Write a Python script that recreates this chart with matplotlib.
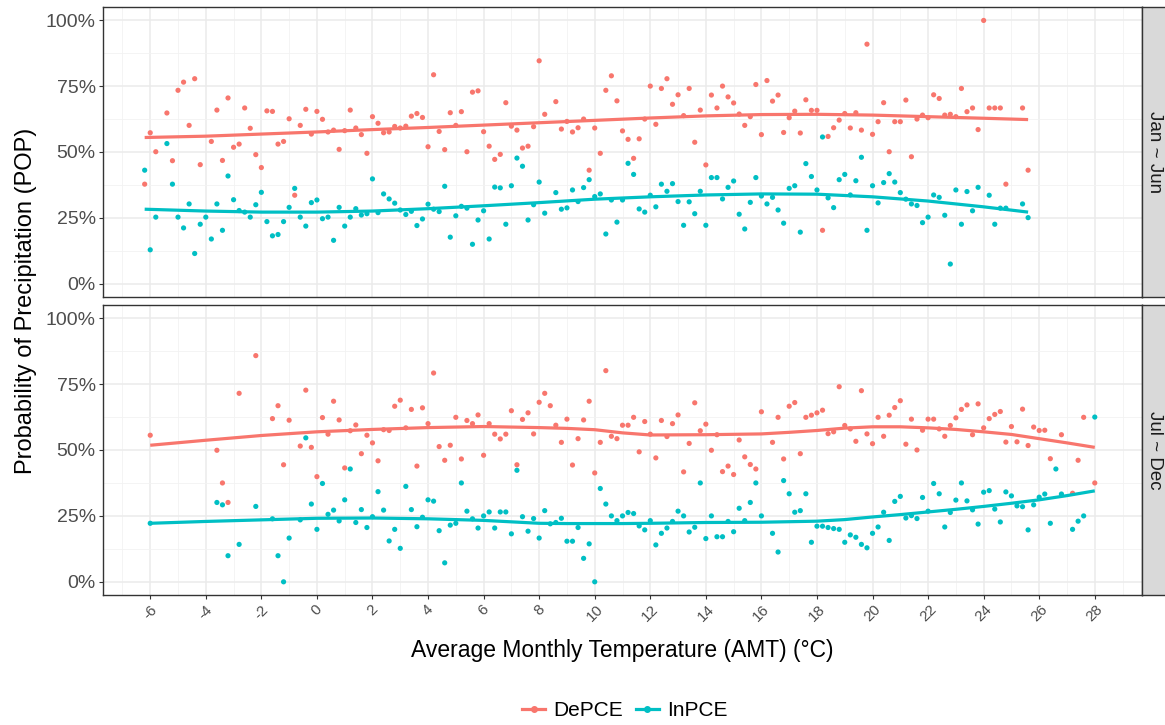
import numpy as np
import matplotlib
matplotlib.use("Agg")
import matplotlib.pyplot as plt
from matplotlib.lines import Line2D

nan = np.nan
plt.rcParams['font.family'] = ['Liberation Sans', 'DejaVu Sans']

# ---------------- data ----------------
series_names = ["DePCE", "InPCE"]
panel_labels = ["Jan ~ Jun", "Jul ~ Dec"]

top_x = [
    -6.2, -6.0, -5.8, -5.6, -5.4, -5.2, -5.0, -4.8, -4.6, -4.4,
    -4.2, -4.0, -3.8, -3.6, -3.4, -3.2, -3.0, -2.8, -2.6, -2.4,
    -2.2, -2.0, -1.8, -1.6, -1.4, -1.2, -1.0, -0.8, -0.6, -0.4,
    -0.2, 0.0, 0.2, 0.4, 0.6, 0.8, 1.0, 1.2, 1.4, 1.6,
    1.8, 2.0, 2.2, 2.4, 2.6, 2.8, 3.0, 3.2, 3.4, 3.6,
    3.8, 4.0, 4.2, 4.4, 4.6, 4.8, 5.0, 5.2, 5.4, 5.6,
    5.8, 6.0, 6.2, 6.4, 6.6, 6.8, 7.0, 7.2, 7.4, 7.6,
    7.8, 8.0, 8.2, 8.4, 8.6, 8.8, 9.0, 9.2, 9.4, 9.6,
    9.8, 10.0, 10.2, 10.4, 10.6, 10.8, 11.0, 11.2, 11.4, 11.6,
    11.8, 12.0, 12.2, 12.4, 12.6, 12.8, 13.0, 13.2, 13.4, 13.6,
    13.8, 14.0, 14.2, 14.4, 14.6, 14.8, 15.0, 15.2, 15.4, 15.6,
    15.8, 16.0, 16.2, 16.4, 16.6, 16.8, 17.0, 17.2, 17.4, 17.6,
    17.8, 18.0, 18.2, 18.4, 18.6, 18.8, 19.0, 19.2, 19.4, 19.6,
    19.8, 20.0, 20.2, 20.4, 20.6, 20.8, 21.0, 21.2, 21.4, 21.6,
    21.8, 22.0, 22.2, 22.4, 22.6, 22.8, 23.0, 23.2, 23.4, 23.6,
    23.8, 24.0, 24.2, 24.4, 24.6, 24.8, 25.0, 25.2, 25.4, 25.6,
]
top_depce = [
    37.8, 57.3, 50.1, nan, 64.8, 46.7, 73.4, 76.5, 60.1, 77.8,
    45.2, nan, 54.0, 65.9, 46.8, 70.5, 51.8, 53.0, 66.7, 59.0,
    49.0, 44.1, 65.6, 65.4, 53.0, 54.0, 62.6, 33.6, 60.1, 66.2,
    56.8, 65.4, 62.4, 57.6, 58.3, 51.0, 58.1, 65.9, 59.1, 56.6,
    49.5, 63.4, 60.9, 57.3, 57.6, 59.7, 59.1, 59.8, 63.6, 64.6,
    63.1, 52.0, 79.3, 57.8, 50.9, 64.9, 60.1, 65.3, 50.1, 72.7,
    73.2, 57.7, 52.2, 47.2, 49.1, 68.7, 59.8, 58.3, 51.5, 52.2,
    59.6, 84.6, 64.3, nan, 69.1, 58.7, 61.6, 57.6, 59.2, 62.5,
    43.1, 59.1, 49.5, 73.4, 78.9, 69.4, 58.0, 54.8, 47.6, 55.0,
    62.5, 75.0, 60.5, 74.1, 77.8, 68.1, 71.7, 63.8, 74.1, 53.7,
    65.9, 45.1, 71.6, 66.7, 75.0, 70.9, 68.6, 64.4, 60.1, 63.4,
    75.6, 56.6, 77.1, 69.3, 71.6, 57.4, 63.0, 65.5, 57.2, 69.8,
    65.8, 65.8, 20.3, 55.9, 59.2, 62.1, 64.6, 59.1, 64.9, 58.3,
    90.9, 56.7, 61.5, 68.7, 50.1, 61.5, 61.5, 69.7, 48.2, 62.5,
    64.0, 63.0, 71.7, 70.3, 64.0, 64.3, 63.4, 74.1, 65.3, 66.7,
    58.5, 99.9, 66.7, 66.7, 66.7, 37.8, nan, nan, 66.7, 43.1,
]
top_inpce = [
    43.1, 12.9, 25.3, nan, 53.2, 37.8, 25.3, 21.2, 30.3, 11.5,
    22.6, 25.3, 17.0, 30.3, 20.3, 40.9, 31.9, 27.8, 27.2, 25.3,
    30.0, 34.7, 23.6, 18.2, 18.7, 23.6, 29.0, 36.2, 25.3, 21.9,
    30.8, 31.8, 24.7, 25.3, 16.5, 29.0, 21.9, 25.3, 28.5, 26.1,
    26.6, 39.8, 27.0, 34.1, 32.2, 30.6, 28.0, 26.3, 27.5, 22.1,
    24.6, 30.2, 28.3, 27.4, 37.0, 17.7, 25.8, 29.4, 28.7, 15.0,
    24.2, 27.7, 17.0, 36.7, 36.4, 22.6, 37.2, 47.7, 44.6, 24.2,
    30.0, 38.6, 26.8, nan, 34.6, 28.3, 28.8, 35.6, 31.2, 36.5,
    39.5, 33.1, 34.1, 18.9, 31.8, 23.4, 31.8, 45.7, 41.5, 28.4,
    27.2, 33.6, 29.2, 37.8, 35.1, 38.0, 31.2, 22.2, 31.1, 26.6,
    35.1, 22.2, 40.3, 40.3, 32.2, 36.6, 39.0, 26.4, 20.8, 30.9,
    40.3, 33.3, 30.3, 32.8, 28.0, 23.0, 36.2, 37.2, 19.6, 45.6,
    40.7, 35.6, 55.7, 32.6, 28.9, 39.5, 41.5, 33.7, 39.1, 48.0,
    20.3, 37.2, 30.7, 38.4, 41.8, 38.6, 34.6, 32.1, 30.3, 29.7,
    23.2, 25.3, 33.7, 32.8, 26.0, 7.5, 35.6, 22.6, 35.0, 27.7,
    36.6, nan, 33.6, 22.6, 28.7, 28.7, nan, nan, 30.3, 25.1,
]

bot_x = [
    -6.0, -5.8, -5.6, -5.4, -5.2, -5.0, -4.8, -4.6, -4.4, -4.2,
    -4.0, -3.8, -3.6, -3.4, -3.2, -3.0, -2.8, -2.6, -2.4, -2.2,
    -2.0, -1.8, -1.6, -1.4, -1.2, -1.0, -0.8, -0.6, -0.4, -0.2,
    0.0, 0.2, 0.4, 0.6, 0.8, 1.0, 1.2, 1.4, 1.6, 1.8,
    2.0, 2.2, 2.4, 2.6, 2.8, 3.0, 3.2, 3.4, 3.6, 3.8,
    4.0, 4.2, 4.4, 4.6, 4.8, 5.0, 5.2, 5.4, 5.6, 5.8,
    6.0, 6.2, 6.4, 6.6, 6.8, 7.0, 7.2, 7.4, 7.6, 7.8,
    8.0, 8.2, 8.4, 8.6, 8.8, 9.0, 9.2, 9.4, 9.6, 9.8,
    10.0, 10.2, 10.4, 10.6, 10.8, 11.0, 11.2, 11.4, 11.6, 11.8,
    12.0, 12.2, 12.4, 12.6, 12.8, 13.0, 13.2, 13.4, 13.6, 13.8,
    14.0, 14.2, 14.4, 14.6, 14.8, 15.0, 15.2, 15.4, 15.6, 15.8,
    16.0, 16.2, 16.4, 16.6, 16.8, 17.0, 17.2, 17.4, 17.6, 17.8,
    18.0, 18.2, 18.4, 18.6, 18.8, 19.0, 19.2, 19.4, 19.6, 19.8,
    20.0, 20.2, 20.4, 20.6, 20.8, 21.0, 21.2, 21.4, 21.6, 21.8,
    22.0, 22.2, 22.4, 22.6, 22.8, 23.0, 23.2, 23.4, 23.6, 23.8,
    24.0, 24.2, 24.4, 24.6, 24.8, 25.0, 25.2, 25.4, 25.6, 25.8,
    26.0, 26.2, 26.4, 26.6, 26.8, 27.0, 27.2, 27.4, 27.6, 27.8,
    28.0,
]
bot_depce = [
    55.6, nan, nan, nan, nan, nan, nan, nan, nan, nan,
    nan, nan, 49.9, 37.5, 30.1, nan, 71.5, nan, nan, 85.8,
    nan, nan, 61.9, 66.8, 44.4, 61.3, nan, 51.5, 72.7, 51.0,
    39.9, 62.3, 56.0, 68.5, 61.4, 43.2, 57.3, 59.5, 48.6, 55.6,
    52.7, 45.9, 57.7, 57.4, 66.6, 68.9, 58.4, 65.4, 43.9, 66.0,
    60.0, 79.2, 51.3, 46.1, 51.8, 62.4, 46.6, 61.2, 60.0, 63.3,
    48.0, 60.0, 56.0, 54.2, 56.0, 64.9, 44.4, 61.6, 64.1, 56.1,
    68.1, 71.5, 66.8, 59.4, 52.9, 61.7, 44.3, 54.3, 61.4, 68.5,
    41.3, 52.9, 80.1, 55.2, 54.3, 59.4, 59.4, 62.4, 49.3, 60.8,
    56.0, 47.0, 61.2, 55.1, 60.0, 63.3, 41.7, 52.5, 67.9, 57.3,
    59.8, 49.9, 55.8, 41.8, 43.9, 40.7, 53.8, 47.4, 44.5, 42.8,
    64.5, nan, 52.9, 62.4, 46.6, 66.6, 68.0, 48.6, 62.4, 63.2,
    64.1, 65.1, 56.2, 56.9, 74.0, 59.3, 58.0, 53.3, 72.5, 56.1,
    52.4, 62.4, 55.2, 63.2, 66.1, 68.7, 52.2, 61.7, 50.0, 57.5,
    61.7, 61.7, 58.0, 55.2, 59.3, 62.2, 65.4, 67.1, 55.8, 67.5,
    58.4, 61.9, 63.5, 64.6, 53.0, 58.9, 53.1, 65.5, 51.7, 58.7,
    57.4, 57.5, 46.7, nan, 55.8, nan, 33.6, 46.1, 62.4, nan,
    37.5,
]
bot_inpce = [
    22.2, nan, nan, nan, nan, nan, nan, nan, nan, nan,
    nan, nan, 30.1, 29.2, 9.9, nan, 14.2, nan, nan, 28.6,
    nan, nan, 23.9, 9.9, 0.0, 16.6, nan, 23.5, 54.6, 29.5,
    19.9, 37.3, 25.6, 27.2, 23.1, 31.1, 42.8, 22.5, 27.4, 20.6,
    24.7, 34.2, 27.2, 15.5, 19.9, 12.7, 36.2, 27.4, 20.9, 24.5,
    31.1, 30.6, 19.4, 7.2, 21.5, 22.2, 37.5, 26.8, 23.9, 20.4,
    25.0, 26.5, 20.4, 26.5, 26.5, 18.2, 42.3, 24.7, 19.2, 24.0,
    16.6, 27.0, 22.0, 22.5, 24.1, 15.4, 15.4, 20.6, 8.9, 14.4,
    0.0, 35.4, 29.5, 25.0, 23.2, 25.0, 26.3, 25.9, 21.2, 19.7,
    23.2, 14.0, 18.4, 20.4, 22.9, 26.8, 25.0, 18.9, 20.7, 37.5,
    16.4, 25.0, 17.1, 17.1, 22.9, 19.0, 27.9, 23.2, 30.1, 37.5,
    25.0, nan, 18.4, 11.3, 38.4, 33.4, 26.4, 27.0, 33.4, 15.0,
    21.1, 21.1, 20.6, 20.2, 19.9, 15.0, 17.8, 16.9, 14.2, 12.9,
    18.4, 20.8, 26.4, 15.7, 30.5, 32.4, 24.2, 25.1, 24.0, 32.0,
    26.8, 37.3, 33.4, 20.8, 26.3, 31.0, 37.5, 30.7, 27.3, 21.9,
    34.0, 34.6, 27.6, 22.7, 34.1, 32.6, 28.8, 28.5, 19.7, 29.2,
    32.1, 33.3, 22.2, 42.8, 33.3, nan, 19.9, 23.0, 25.0, nan,
    62.5,
]

# smooth (loess) curves
top_line_x = [-6.2, -4, -2, 0, 2, 4, 6, 8, 10, 12, 14, 16, 18, 20, 22, 24, 25.6]
top_line_depce = [55.5, 56.0, 56.8, 57.6, 58.5, 59.3, 60.2, 61.1, 62.0, 62.9,
                  63.7, 64.2, 64.3, 64.0, 63.4, 62.8, 62.3]
top_line_inpce = [28.3, 27.6, 27.2, 27.2, 27.6, 28.5, 29.6, 30.8, 32.1, 33.0,
                  33.7, 34.1, 34.0, 33.0, 31.4, 29.2, 27.2]
bot_line_x = [-6, -4, -2, 0, 2, 4, 6, 8, 9, 10, 11, 12, 14, 16, 17, 18, 19,
              20, 21, 22, 23, 24, 25, 26, 27, 28]
bot_line_depce = [51.8, 53.7, 55.5, 56.9, 57.8, 58.5, 58.9, 58.5, 58.2, 57.7,
                  56.5, 55.7, 55.8, 56.1, 56.7, 57.4, 58.3, 58.8, 58.8, 58.4,
                  57.8, 56.9, 55.9, 54.3, 52.7, 51.0]
bot_line_inpce = [22.2, 22.9, 23.5, 24.1, 24.2, 23.9, 23.3, 22.2, 22.1, 22.1,
                  22.1, 22.2, 22.5, 22.6, 22.8, 23.0, 23.6, 24.6, 25.5, 26.5,
                  27.5, 28.6, 29.8, 31.1, 32.7, 34.5]

x_ticks = [-6, -4, -2, 0, 2, 4, 6, 8, 10, 12, 14, 16, 18, 20, 22, 24, 26, 28]
x_minor = [-7, -5, -3, -1, 1, 3, 5, 7, 9, 11, 13, 15, 17, 19, 21, 23, 25, 27, 29]
y_ticks = [0, 25, 50, 75, 100]
y_minor = [12.5, 37.5, 62.5, 87.5]

# ---------------- style ----------------
COL_DE = "#F8766D"
COL_IN = "#00BFC4"
W, H = 1165, 725

fig = plt.figure(figsize=(W / 100, H / 100), dpi=100)


def rect(l, t, r, b):
    return [l / W, 1 - b / H, (r - l) / W, (b - t) / H]


panels = [
    (top_x, top_depce, top_inpce, top_line_x, top_line_depce, top_line_inpce, (7, 297)),
    (bot_x, bot_depce, bot_inpce, bot_line_x, bot_line_depce, bot_line_inpce, (305, 595)),
]

for i, (px, de, inn, lx, lde, lin, (t, b)) in enumerate(panels):
    ax = fig.add_axes(rect(103, t, 1142, b))
    ax.set_xlim(-7.7, 29.7)
    ax.set_ylim(-5, 105)
    ax.set_xticks(x_ticks)
    ax.set_xticks(x_minor, minor=True)
    ax.set_yticks(y_ticks)
    ax.set_yticks(y_minor, minor=True)
    ax.set_yticklabels([f"{v}%" for v in y_ticks])
    ax.grid(which="major", color="#EBEBEB", lw=1.1)
    ax.grid(which="minor", color="#F2F2F2", lw=0.6)
    ax.set_axisbelow(True)
    for s in ax.spines.values():
        s.set_color("#333333")
        s.set_linewidth(1.0)
    ax.tick_params(which="minor", length=0)
    ax.tick_params(which="major", length=3.2, width=0.8, color="#333333",
                   labelcolor="#4D4D4D", pad=2)
    ax.tick_params(axis="y", labelsize=14)
    if i == 0:
        ax.tick_params(axis="x", which="both", bottom=False, labelbottom=False)
    else:
        ax.set_xticklabels([str(v) for v in x_ticks])
        for lab in ax.get_xticklabels():
            lab.set_rotation(45)
            lab.set_ha("center")
            lab.set_va("top")
            lab.set_fontsize(11)

    ax.scatter(px, de, s=14, color=COL_DE, edgecolors="none", zorder=3)
    ax.scatter(px, inn, s=14, color=COL_IN, edgecolors="none", zorder=3)
    ax.plot(lx, lde, color=COL_DE, lw=2.3, zorder=4, solid_capstyle="butt")
    ax.plot(lx, lin, color=COL_IN, lw=2.3, zorder=4, solid_capstyle="butt")

    # facet strip
    sax = fig.add_axes(rect(1142, t, 1170, b))
    sax.set_facecolor("#D9D9D9")
    sax.set_xticks([])
    sax.set_yticks([])
    for s in sax.spines.values():
        s.set_color("#333333")
        s.set_linewidth(1.0)
    sax.text(0.45, 0.5, panel_labels[i], rotation=-90, ha="center", va="center",
             fontsize=13.5, color="#1A1A1A", transform=sax.transAxes)

fig.text(26 / W, 1 - 301 / H, "Probability of Precipitation (POP)", rotation=90,
         ha="center", va="center", fontsize=17, color="black")
fig.text(622 / W, 1 - 651 / H, "Average Monthly Temperature (AMT) (\u00b0C)",
         ha="center", va="center", fontsize=16.5, color="black")

handles = [
    Line2D([0], [0], color=COL_DE, lw=2.3, marker="o", markersize=4),
    Line2D([0], [0], color=COL_IN, lw=2.3, marker="o", markersize=4),
]
fig.legend(handles, series_names, loc="center", bbox_to_anchor=(625 / W, 1 - 711 / H),
           ncol=2, frameon=False, fontsize=15, handlelength=1.1,
           handletextpad=0.4, columnspacing=0.6)

fig.savefig("out.png", dpi=100)
